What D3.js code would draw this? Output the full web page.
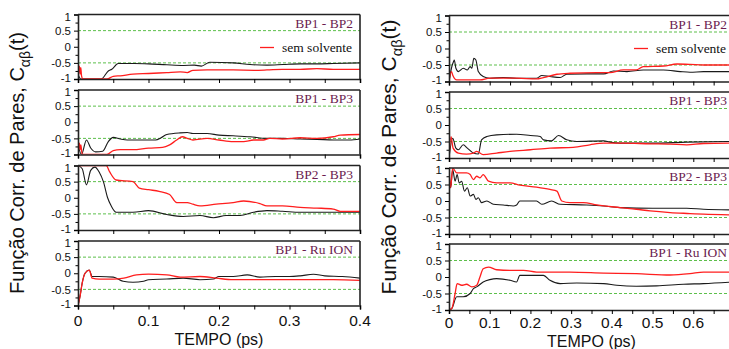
<!DOCTYPE html>
<html><head><meta charset="utf-8">
<script src="https://cdn.jsdelivr.net/npm/d3@7"></script>
<style>body{margin:0;background:#fff}svg{display:block}</style>
</head><body><svg id="c" width="729" height="349"></svg>
<script>
// ---------- DATA ----------
const panelLabels = ["BP1 - BP2", "BP1 - BP3", "BP2 - BP3", "BP1 - Ru ION"];
const legendLabel = "sem solvente";
const yTickValues = [-1, -0.5, 0, 0.5, 1];
const yTickLabels = ["-1", "-0.5", "0", "0.5", "1"];
const leftXTicks = [0, 0.1, 0.2, 0.3, 0.4];
const rightXTicks = [0, 0.1, 0.2, 0.3, 0.4, 0.5, 0.6];
const xTitle = "TEMPO (ps)";

// Left chart (0 - 0.4 ps)
const L1_black = [[0,-0.85],[0.004,-1],[0.033,-1],[0.043,-0.75],[0.048,-0.7],[0.057,-0.52],[0.08,-0.52],[0.1,-0.53],[0.126,-0.56],[0.15,-0.58],[0.165,-0.57],[0.175,-0.6],[0.187,-0.48],[0.22,-0.5],[0.244,-0.55],[0.268,-0.57],[0.291,-0.55],[0.315,-0.53],[0.339,-0.53],[0.362,-0.52],[0.4,-0.5]];
const L1_red = [[0,-1],[0.002,-0.6],[0.003,-0.85],[0.004,-0.65],[0.005,-0.9],[0.007,-1],[0.041,-1],[0.05,-0.92],[0.06,-0.9],[0.078,-0.85],[0.1,-0.83],[0.126,-0.8],[0.145,-0.78],[0.155,-0.8],[0.163,-0.73],[0.183,-0.72],[0.22,-0.72],[0.25,-0.73],[0.268,-0.72],[0.29,-0.7],[0.315,-0.7],[0.339,-0.68],[0.362,-0.7],[0.4,-0.7]];
const L2_black = [[0,-0.7],[0.005,-1],[0.012,-0.55],[0.018,-0.8],[0.025,-0.92],[0.035,-0.9],[0.043,-0.6],[0.05,-0.47],[0.06,-0.52],[0.07,-0.55],[0.09,-0.55],[0.11,-0.55],[0.118,-0.48],[0.126,-0.38],[0.145,-0.33],[0.155,-0.32],[0.163,-0.35],[0.183,-0.35],[0.2,-0.4],[0.22,-0.42],[0.244,-0.45],[0.268,-0.5],[0.29,-0.5],[0.315,-0.52],[0.339,-0.53],[0.362,-0.55],[0.385,-0.55],[0.4,-0.52]];
const L2_red = [[0,-1],[0.002,-0.65],[0.003,-0.85],[0.004,-0.7],[0.006,-1],[0.041,-1],[0.05,-0.88],[0.06,-0.85],[0.078,-0.85],[0.1,-0.8],[0.12,-0.78],[0.13,-0.7],[0.14,-0.55],[0.148,-0.45],[0.155,-0.5],[0.163,-0.55],[0.183,-0.5],[0.2,-0.55],[0.22,-0.6],[0.235,-0.6],[0.249,-0.55],[0.263,-0.55],[0.272,-0.5],[0.29,-0.52],[0.315,-0.48],[0.339,-0.5],[0.362,-0.45],[0.372,-0.4],[0.4,-0.38]];
const L3_black = [[0,1],[0.006,0.9],[0.012,0.4],[0.018,0.85],[0.024,0.95],[0.03,0.8],[0.036,0.5],[0.042,0],[0.047,-0.25],[0.054,-0.45],[0.078,-0.45],[0.1,-0.4],[0.126,-0.52],[0.149,-0.58],[0.173,-0.55],[0.192,-0.62],[0.21,-0.55],[0.23,-0.55],[0.249,-0.45],[0.268,-0.4],[0.29,-0.42],[0.315,-0.45],[0.339,-0.45],[0.362,-0.45],[0.4,-0.45]];
const L3_red = [[0,1],[0.04,1],[0.045,0.8],[0.054,0.55],[0.078,0.5],[0.087,0.3],[0.1,0.25],[0.115,0.2],[0.13,0.1],[0.14,-0.15],[0.155,-0.15],[0.163,-0.2],[0.173,-0.25],[0.196,-0.2],[0.22,-0.15],[0.235,-0.1],[0.258,-0.18],[0.268,-0.25],[0.29,-0.25],[0.315,-0.3],[0.339,-0.32],[0.362,-0.35],[0.372,-0.42],[0.4,-0.42]];
const L4_black = [[0,-1],[0.003,-0.7],[0.006,-0.3],[0.01,0],[0.016,0.1],[0.02,-0.1],[0.03,-0.1],[0.05,-0.12],[0.064,-0.25],[0.078,-0.28],[0.093,-0.25],[0.1,-0.2],[0.126,-0.18],[0.149,-0.15],[0.173,-0.2],[0.192,-0.18],[0.2,-0.1],[0.22,-0.1],[0.24,-0.05],[0.258,-0.12],[0.28,-0.1],[0.3,-0.1],[0.315,-0.08],[0.334,-0.03],[0.35,-0.08],[0.375,-0.1],[0.4,-0.15]];
const L4_red = [[0,-1],[0.003,-0.7],[0.006,-0.3],[0.01,0],[0.016,0.1],[0.02,-0.15],[0.03,-0.18],[0.05,-0.18],[0.065,-0.15],[0.083,-0.05],[0.1,-0.03],[0.126,-0.05],[0.145,-0.12],[0.173,-0.1],[0.196,-0.15],[0.22,-0.2],[0.27,-0.2],[0.315,-0.2],[0.362,-0.2],[0.4,-0.22]];

// Right chart (0 - 0.7 ps)
const R1_black = [[0,-1],[0.008,-0.5],[0.011,-0.4],[0.013,-0.35],[0.017,-0.6],[0.023,-0.7],[0.035,-0.6],[0.045,-0.65],[0.052,-0.55],[0.056,-0.6],[0.061,-0.3],[0.066,-0.35],[0.072,-0.7],[0.084,-0.85],[0.1,-0.9],[0.133,-0.88],[0.166,-0.9],[0.215,-0.9],[0.228,-0.82],[0.248,-0.85],[0.273,-0.88],[0.289,-0.78],[0.338,-0.77],[0.38,-0.77],[0.404,-0.68],[0.437,-0.7],[0.477,-0.65],[0.527,-0.65],[0.568,-0.7],[0.592,-0.72],[0.625,-0.7],[0.7,-0.7]];
const R1_red = [[0,-1],[0.006,-0.7],[0.009,-0.8],[0.019,-0.95],[0.05,-0.95],[0.076,-0.95],[0.1,-0.9],[0.166,-0.9],[0.215,-0.92],[0.232,-0.88],[0.265,-0.78],[0.297,-0.75],[0.363,-0.73],[0.395,-0.73],[0.428,-0.65],[0.46,-0.65],[0.477,-0.55],[0.527,-0.53],[0.56,-0.47],[0.592,-0.48],[0.625,-0.5],[0.7,-0.5]];
const R2_black = [[0,-1],[0.009,-0.4],[0.017,-0.7],[0.023,-0.75],[0.035,-0.6],[0.045,-0.7],[0.06,-0.85],[0.072,-0.88],[0.08,-0.45],[0.093,-0.35],[0.117,-0.3],[0.166,-0.28],[0.2,-0.32],[0.224,-0.35],[0.232,-0.45],[0.252,-0.48],[0.269,-0.32],[0.289,-0.45],[0.314,-0.5],[0.38,-0.48],[0.395,-0.52],[0.42,-0.55],[0.5,-0.55],[0.584,-0.52],[0.7,-0.5]];
const R2_red = [[0,-1],[0.005,-0.35],[0.01,-0.7],[0.023,-0.85],[0.043,-0.88],[0.06,-0.85],[0.068,-0.8],[0.084,-0.9],[0.117,-0.85],[0.15,-0.8],[0.2,-0.75],[0.248,-0.7],[0.305,-0.68],[0.346,-0.6],[0.38,-0.55],[0.428,-0.55],[0.494,-0.57],[0.543,-0.58],[0.584,-0.6],[0.625,-0.56],[0.7,-0.55]];
const R3_black = [[0,1],[0.004,0.4],[0.009,0.95],[0.015,0.6],[0.02,0.8],[0.025,0.55],[0.031,0.6],[0.038,0.3],[0.045,0.4],[0.052,0.15],[0.06,0.2],[0.066,0.05],[0.072,0.1],[0.08,-0.05],[0.093,0],[0.109,-0.1],[0.133,-0.12],[0.158,-0.15],[0.166,-0.12],[0.174,0],[0.215,0],[0.228,-0.1],[0.252,0],[0.273,-0.1],[0.338,-0.12],[0.38,-0.15],[0.42,-0.2],[0.5,-0.22],[0.584,-0.22],[0.625,-0.25],[0.7,-0.27]];
const R3_red = [[0,1],[0.004,0.4],[0.009,1],[0.019,0.85],[0.043,0.85],[0.052,0.8],[0.06,0.65],[0.068,0.75],[0.076,0.7],[0.084,0.8],[0.097,0.6],[0.117,0.55],[0.15,0.55],[0.174,0.48],[0.215,0.42],[0.248,0.35],[0.265,0.3],[0.277,0],[0.297,-0.05],[0.33,-0.05],[0.363,-0.12],[0.42,-0.2],[0.46,-0.25],[0.494,-0.3],[0.543,-0.35],[0.592,-0.38],[0.625,-0.4],[0.7,-0.42]];
const R4_black = [[0,-1],[0.007,-0.95],[0.019,-0.6],[0.035,-0.6],[0.052,-0.5],[0.06,-0.35],[0.068,-0.3],[0.084,-0.15],[0.1,-0.08],[0.117,-0.05],[0.15,-0.1],[0.166,-0.15],[0.174,0.05],[0.215,0.05],[0.232,0.05],[0.248,-0.1],[0.273,-0.2],[0.314,-0.18],[0.38,-0.2],[0.412,-0.25],[0.46,-0.28],[0.51,-0.27],[0.576,-0.22],[0.625,-0.2],[0.7,-0.15]];
const R4_red = [[0,-1],[0.007,-0.95],[0.015,-0.5],[0.02,-0.2],[0.031,-0.25],[0.043,-0.22],[0.056,-0.3],[0.068,-0.25],[0.076,0],[0.084,0.25],[0.097,0.3],[0.117,0.22],[0.15,0.2],[0.183,0.2],[0.215,0.15],[0.297,0.15],[0.38,0.12],[0.46,0.1],[0.543,0.06],[0.592,0.1],[0.625,0.15],[0.7,0.15]];

const leftBlack = [L1_black, L2_black, L3_black, L4_black];
const leftRed = [L1_red, L2_red, L3_red, L4_red];
const rightBlack = [R1_black, R2_black, R3_black, R4_black];
const rightRed = [R1_red, R2_red, R3_red, R4_red];

// ---------- DRAW ----------
const svg = d3.select("#c");
const labelColor = "#6b1d50";
const gridColor = "#5cbf4a";

const charts = [
  {x0: 78, x1: 360, xmax: 0.4, tops: [14.5, 90, 165.5, 241], h: 64.5, xticks: leftXTicks, black: leftBlack, red: leftRed,
   titleX: 24, titleY: 163, titleSize: 20, tickBase: 326, xTitleBase: 345, uid: "L"},
  {x0: 449, x1: 734, xmax: 0.7, tops: [15.5, 92, 168, 244], h: 66, xticks: rightXTicks, black: rightBlack, red: rightRed,
   titleX: 396, titleY: 157, titleSize: 21, tickBase: 328, xTitleBase: 347, uid: "R"}
];

const fmtY = d => yTickLabels[yTickValues.indexOf(d)];

charts.forEach(ch => {
  const x = d3.scaleLinear().domain([0, ch.xmax]).range([ch.x0, ch.x1]);
  const minorX = d3.range(0, ch.xmax + 1e-9, 0.05);
  ch.tops.forEach((top, i) => {
    const y = d3.scaleLinear().domain([-1, 1]).range([top + ch.h, top]);
    const g = svg.append("g");
    const cid = "clip" + ch.uid + i;
    svg.append("clipPath").attr("id", cid).append("rect")
      .attr("x", ch.x0).attr("y", top).attr("width", ch.x1 - ch.x0).attr("height", ch.h);
    // grid dashed lines
    [0.5, -0.5].forEach(v => {
      g.append("line").attr("x1", ch.x0).attr("x2", ch.x1).attr("y1", y(v)).attr("y2", y(v))
        .attr("stroke", gridColor).attr("stroke-width", 1).attr("stroke-dasharray", "3,2");
    });
    // lines
    const line = d3.line().x(d => x(d[0])).y(d => y(d[1])).curve(d3.curveMonotoneX);
    g.append("path").datum(ch.black[i]).attr("d", line).attr("fill", "none")
      .attr("stroke", "#1a1a1a").attr("stroke-width", 1.1).attr("clip-path", `url(#${cid})`);
    g.append("path").datum(ch.red[i]).attr("d", line).attr("fill", "none")
      .attr("stroke", "#ff1e1e").attr("stroke-width", 1.3).attr("clip-path", `url(#${cid})`);
    // frame
    g.append("line").attr("x1", ch.x0).attr("x2", ch.x1).attr("y1", top).attr("y2", top).attr("stroke", "#222").attr("stroke-width", 1.6);
    g.append("line").attr("x1", ch.x1).attr("x2", ch.x1).attr("y1", top).attr("y2", top + ch.h).attr("stroke", "#222").attr("stroke-width", 1.6);
    // y axis
    const ya = g.append("g").attr("transform", `translate(${ch.x0},0)`)
      .call(d3.axisLeft(y).tickValues(yTickValues).tickFormat(fmtY).tickSize(4).tickPadding(3));
    ya.select(".domain").attr("stroke", "#222").attr("stroke-width", 1.6);
    ya.selectAll("text").attr("font-family", "Liberation Sans, Arial, sans-serif").attr("font-size", 11.5).attr("fill", "#111")
      .attr("dy", d => d === 1 ? "0.5em" : d === -1 ? "0.2em" : "0.32em");
    const yam = g.append("g").attr("transform", `translate(${ch.x0},0)`)
      .call(d3.axisLeft(y).tickValues([-0.75, -0.25, 0.25, 0.75]).tickFormat("").tickSize(2.5));
    yam.select(".domain").remove();
    // x axis
    const isBottom = i === ch.tops.length - 1;
    const xa = g.append("g").attr("transform", `translate(0,${top + ch.h})`)
      .call(d3.axisBottom(x).tickValues(minorX).tickFormat("").tickSize(4));
    xa.select(".domain").attr("stroke", "#222").attr("stroke-width", 1.6);
    if (isBottom) {
      g.append("g").selectAll("text").data(ch.xticks).join("text")
        .attr("x", d => x(d)).attr("y", ch.tickBase).attr("text-anchor", "middle")
        .attr("font-family", "Liberation Sans, Arial, sans-serif").attr("font-size", 15.5).attr("fill", "#111")
        .text(d => d === 0 ? "0" : String(d));
    }
    // panel label
    g.append("text").attr("x", ch.x1 - 7).attr("y", top + 13).attr("text-anchor", "end")
      .attr("font-family", "Liberation Serif, Times New Roman, serif").attr("font-size", 13.5)
      .attr("fill", labelColor).text(panelLabels[i]);
    // legend
    if (i === 0) {
      g.append("line").attr("x1", ch.x1 - 100).attr("x2", ch.x1 - 86).attr("y1", top + 33).attr("y2", top + 33)
        .attr("stroke", "#ff1e1e").attr("stroke-width", 1.3);
      g.append("text").attr("x", ch.x1 - 78).attr("y", top + 37)
        .attr("font-family", "Liberation Serif, Times New Roman, serif").attr("font-size", 13.5)
        .attr("fill", "#111").text(legendLabel);
    }
  });
  // x title
  svg.append("text").attr("x", (ch.x0 + ch.x1) / 2).attr("y", ch.xTitleBase).attr("text-anchor", "middle")
    .attr("font-family", "Liberation Sans, Arial, sans-serif").attr("font-size", 16).attr("fill", "#111").text(xTitle);
  // y title
  const t = svg.append("text").attr("transform", `translate(${ch.titleX},${ch.titleY}) rotate(-90)`)
    .attr("text-anchor", "middle").attr("font-family", "Liberation Sans, Arial, sans-serif")
    .attr("font-size", ch.titleSize).attr("fill", "#111");
  t.append("tspan").text("Função Corr. de Pares, C");
  t.append("tspan").attr("font-size", ch.titleSize * 0.7).attr("dy", ch.titleSize * 0.3).text("αβ");
  t.append("tspan").attr("dy", -ch.titleSize * 0.3).text("(t)");
});
</script></body></html>
